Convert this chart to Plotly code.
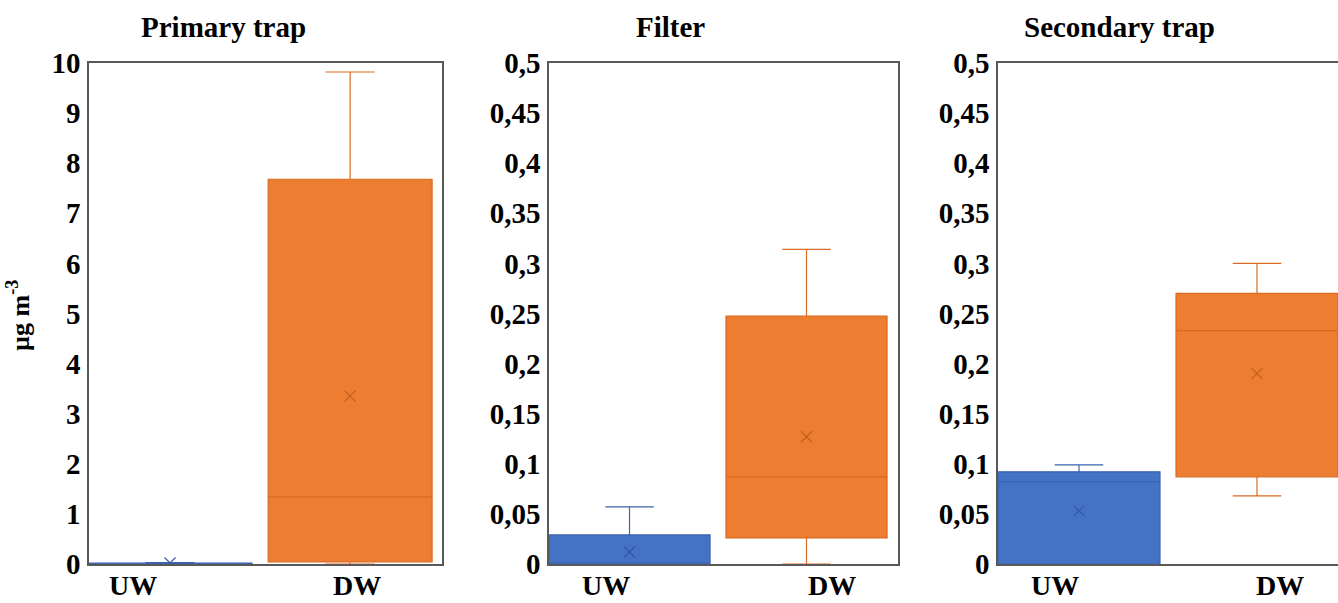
import plotly.graph_objects as go

# ---- data ----
categories = ["UW", "DW"]
panel_titles = ["Primary trap", "Filter", "Secondary trap"]

uw_min = [0.0, 0.0, 0.0]
uw_q1 = [0.0, 0.0, 0.0]
uw_median = [0.005, 0.0, 0.082]
uw_q3 = [0.02, 0.029, 0.092]
uw_max = [0.03, 0.057, 0.099]
uw_mean = [0.02, 0.012, 0.053]

dw_min = [0.0, 0.0, 0.068]
dw_q1 = [0.04, 0.026, 0.087]
dw_median = [1.34, 0.087, 0.233]
dw_q3 = [7.68, 0.2475, 0.270]
dw_max = [9.82, 0.314, 0.300]
dw_mean = [3.35, 0.127, 0.190]

y_max = [10, 0.5, 0.5]
y_dtick = [1, 0.05, 0.05]

# ---- styles ----
W, H = 1338, 603
blue_fill, blue_line, blue_mark = "#4472C4", "#3A63B0", "#3558A0"
orange_fill, orange_line, orange_mark = "#ED7D31", "#D96A22", "#C2601F"
font_family = "Liberation Serif"

# pixel layout of each panel (left, right) and label offsets (in category units)
panel_px = [(89, 442), (549, 898), (998, 1338)]
x_ranges = [[-0.45, 1.51], [-0.455, 1.517], [-0.455, 1.455]]
label_pos = [[-0.205, 1.04], [-0.133, 1.144], [-0.135, 1.13]]
y_top_px, y_bot_px = 63, 564

fig = go.Figure()
layout = {}
annotations = []
for i in range(3):
    ax = "" if i == 0 else str(i + 1)
    xref, yref = "x" + ax, "y" + ax
    stats = [
        (0, uw_min, uw_q1, uw_median, uw_q3, uw_max, uw_mean, blue_fill, blue_line, blue_mark),
        (1, dw_min, dw_q1, dw_median, dw_q3, dw_max, dw_mean, orange_fill, orange_line, orange_mark),
    ]
    for idx, mn, q1, med, q3, mx, mean, fc, lc, mc in stats:
        fig.add_trace(go.Box(
            x=[categories.index(categories[idx])],
            lowerfence=[mn[i]], q1=[q1[i]], median=[med[i]], q3=[q3[i]], upperfence=[mx[i]],
            width=0.91, whiskerwidth=0.3,
            fillcolor=fc, line=dict(color=lc, width=1.2),
            boxpoints=False, showlegend=False, hoverinfo="skip",
            xaxis=xref, yaxis=yref,
        ))
        fig.add_trace(go.Scatter(
            x=[categories.index(categories[idx])], y=[mean[i]], mode="markers",
            marker=dict(symbol="x-thin-open", size=11, color=mc, line=dict(color=mc, width=1.2)),
            showlegend=False, hoverinfo="skip", xaxis=xref, yaxis=yref,
        ))
        # category label under the panel
        annotations.append(dict(
            text=categories[idx], x=label_pos[i][idx], y=(H - 585) / H,
            xref=xref, yref="paper", showarrow=False,
            xanchor="center", yanchor="middle", borderpad=0,
            font=dict(family=font_family, size=28, color="black", weight="bold"),
        ))
    l, r = panel_px[i]
    layout["xaxis" + ax] = dict(
        domain=[l / W, r / W], range=x_ranges[i], anchor=yref,
        showticklabels=False, ticks="", automargin=False,
        showline=True, linecolor="#595959", linewidth=1.5, mirror=True,
        showgrid=False, zeroline=False, fixedrange=True,
    )
    layout["yaxis" + ax] = dict(
        domain=[(H - y_bot_px) / H, (H - y_top_px) / H], range=[0, y_max[i]],
        dtick=y_dtick[i], anchor=xref, ticks="",
        tickfont=dict(family=font_family, size=29, color="black", weight="bold"),
        ticklabelstandoff=1, automargin=False,
        showline=True, linecolor="#595959", linewidth=1.5, mirror=(i < 2),
        showgrid=False, zeroline=False, fixedrange=True,
    )

title_x = [223, 670, 1119]
for i, t in enumerate(panel_titles):
    annotations.append(dict(
        text=t, x=title_x[i] / W, y=(H - 27) / H, xref="paper", yref="paper",
        showarrow=False, xanchor="center", yanchor="middle",
        font=dict(family=font_family, size=29, color="black", weight="bold"),
    ))
annotations.append(dict(
    text="µg m<sup>-3</sup>", x=18 / W, y=(H - 316) / H, xref="paper", yref="paper",
    showarrow=False, xanchor="center", yanchor="middle", textangle=-90,
    font=dict(family=font_family, size=26, color="black", weight="bold"),
))

fig.update_layout(
    width=W, height=H, margin=dict(l=0, r=0, t=0, b=0, autoexpand=False),
    paper_bgcolor="white", plot_bgcolor="white",
    separators=",.", boxmode="overlay", showlegend=False,
    annotations=annotations, **layout,
)

fig.write_html("out.html", config={"displayModeBar": False})
